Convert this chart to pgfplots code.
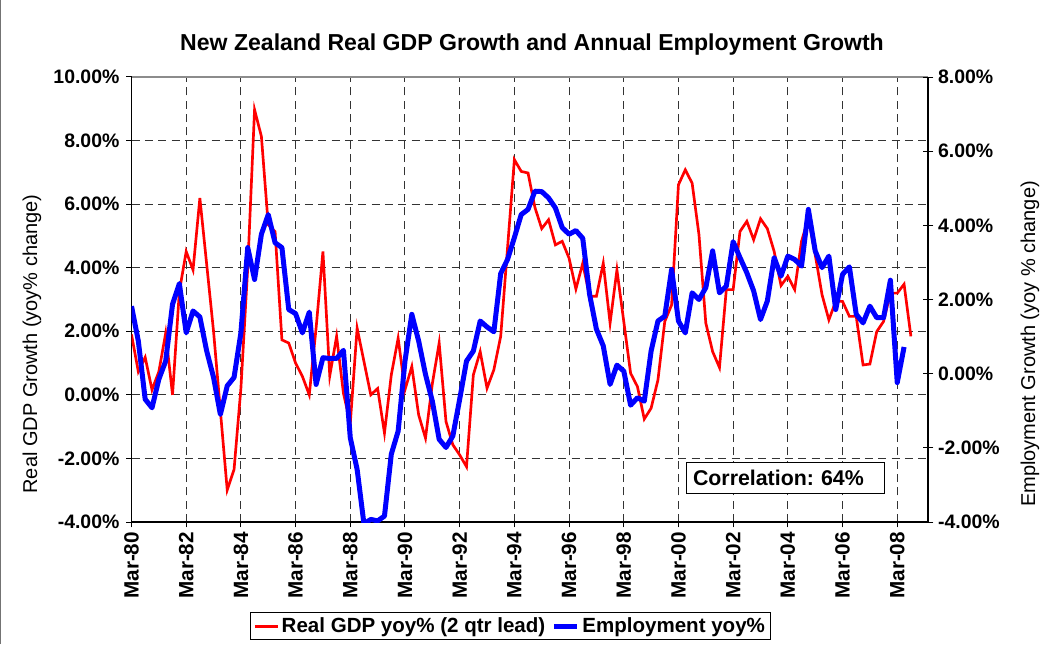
\documentclass[border=0pt]{standalone}
\usepackage{pgfplots}
\pgfplotsset{compat=1.18}
\usepackage{pgfplotstable}
\usepackage{fontspec}
\setmainfont{Liberation Sans}
\frenchspacing

\pgfplotstableread{
i v
0 1.9
1 0.73
2 1.18
3 0.16
4 0.73
5 1.94
6 0.0
7 3.25
8 4.51
9 3.93
10 6.19
11 4.1
12 2.0
13 -0.5
14 -2.99
15 -2.35
16 0.2
17 4.0
18 8.97
19 8.13
20 5.35
21 5.14
22 1.73
23 1.63
24 1.0
25 0.58
26 0.0
27 2.1
28 4.51
29 0.6
30 1.84
31 0.05
32 -0.9
33 2.1
34 1.05
35 0.0
36 0.2
37 -1.2
38 0.63
39 1.78
40 0.16
41 0.89
42 -0.63
43 -1.36
44 0.35
45 1.63
46 -0.84
47 -1.57
48 -1.89
49 -2.26
50 0.63
51 1.36
52 0.21
53 0.79
54 1.84
55 4.62
56 7.4
57 7.03
58 6.98
59 5.9
60 5.23
61 5.51
62 4.72
63 4.83
64 4.3
65 3.33
66 4.14
67 3.1
68 3.1
69 4.14
70 2.26
71 3.93
72 2.31
73 0.68
74 0.26
75 -0.76
76 -0.42
77 0.47
78 2.31
79 2.83
80 6.61
81 7.08
82 6.66
83 5.04
84 2.26
85 1.36
86 0.86
87 3.31
88 3.31
89 5.14
90 5.46
91 4.88
92 5.54
93 5.23
94 4.51
95 3.44
96 3.73
97 3.31
98 4.83
99 5.56
100 4.41
101 3.15
102 2.36
103 2.94
104 2.94
105 2.47
106 2.47
107 0.94
108 0.97
109 1.99
110 2.31
111 3.2
112 3.2
113 3.48
114 1.84
}\gdp

\pgfplotstableread{
i v
0 1.82
1 0.88
2 -0.69
3 -0.92
4 -0.15
5 0.34
6 1.87
7 2.43
8 1.1
9 1.69
10 1.53
11 0.61
12 -0.1
13 -1.1
14 -0.33
15 -0.1
16 1.1
17 3.40
18 2.54
19 3.76
20 4.29
21 3.53
22 3.40
23 1.73
24 1.62
25 1.1
26 1.66
27 -0.29
28 0.43
29 0.41
30 0.41
31 0.63
32 -1.73
33 -2.58
34 -4.05
35 -3.93
36 -3.97
37 -3.84
38 -2.17
39 -1.55
40 0.34
41 1.6
42 0.88
43 -0.02
44 -0.74
45 -1.77
46 -1.99
47 -1.68
48 -0.69
49 0.34
50 0.61
51 1.42
52 1.26
53 1.13
54 2.7
55 3.08
56 3.67
57 4.29
58 4.43
59 4.92
60 4.91
61 4.74
62 4.47
63 3.94
64 3.76
65 3.86
66 3.65
67 2.14
68 1.2
69 0.75
70 -0.29
71 0.23
72 0.07
73 -0.85
74 -0.65
75 -0.74
76 0.61
77 1.42
78 1.55
79 2.81
80 1.42
81 1.1
82 2.18
83 2.0
84 2.32
85 3.31
86 2.18
87 2.36
88 3.56
89 3.13
90 2.72
91 2.23
92 1.46
93 1.96
94 3.13
95 2.63
96 3.17
97 3.08
98 2.9
99 4.43
100 3.31
101 2.86
102 3.17
103 1.73
104 2.68
105 2.88
106 1.6
107 1.37
108 1.82
109 1.51
110 1.51
111 2.52
112 -0.24
113 0.72
}\emp

\begin{document}
\begin{tikzpicture}[x=0.75pt,y=0.75pt]
\useasboundingbox (0,0) rectangle (1045,644);
\draw[black!55, line width=0.75pt] (0.6,0) -- (0.6,644);
\node[font=\bfseries\fontsize{17.3}{18}\selectfont] at (532,599) {New Zealand Real GDP Growth and Annual Employment Growth};
\node[rotate=90, font=\fontsize{15}{16}\selectfont] at (32,300) {Real GDP Growth (yoy\% change)};
\node[rotate=90, font=\fontsize{15}{16}\selectfont] at (1030,300) {Employment Growth (yoy \% change)};

\begin{axis}[
  scale only axis, width=597.375pt, height=333.75pt,
  at={(98.625pt,91.5pt)}, anchor=south west,
  xmin=0, xmax=116.5, ymin=-4, ymax=10,
  axis x line*=bottom, axis y line*=left,
  axis line style={black, line width=0.9pt},
  xtick={0,8,...,112},
  xticklabels={Mar-80,Mar-82,Mar-84,Mar-86,Mar-88,Mar-90,Mar-92,Mar-94,Mar-96,Mar-98,Mar-00,Mar-02,Mar-04,Mar-06,Mar-08},
  ytick={-4,-2,...,10},
  yticklabels={-4.00\%,-2.00\%,0.00\%,2.00\%,4.00\%,6.00\%,8.00\%,10.00\%},
  tick align=outside, major tick length=4pt,
  tick style={black, line width=0.75pt},
  x tick label style={rotate=90, anchor=east, font=\bfseries\fontsize{15.5}{16}\selectfont},
  y tick label style={font=\bfseries\fontsize{14.6}{16}\selectfont, xshift=-1.5pt},
  grid=major,
  major grid style={black!80, line width=0.75pt, dash pattern=on 6pt off 4pt},
  clip=true,
  legend style={at={(0.476,-0.202)}, anchor=north, legend columns=2, draw=black, line width=0.75pt,
    font=\bfseries\fontsize{15.4}{17}\selectfont, inner sep=2pt,
    /tikz/every even column/.append style={column sep=3pt}},
  legend cell align=left,
]
\draw[black!45, line width=0.9pt] (rel axis cs:0,1) -- (rel axis cs:1,1);
\addplot[red, line width=2pt, mark=none] table[x=i, y=v] {\gdp};
\addlegendentry{Real GDP yoy\% (2 qtr lead)}
\addlegendimage{blue, line width=3.75pt}
\addlegendentry{Employment yoy\%}
\end{axis}

\begin{axis}[
  scale only axis, width=597.375pt, height=333.75pt,
  at={(98.625pt,91.5pt)}, anchor=south west,
  xmin=0, xmax=116.5, ymin=-4, ymax=8,
  axis x line=none, axis y line*=right,
  axis line style={black, line width=0.9pt},
  ytick={-4,-2,...,8},
  yticklabels={-4.00\%,-2.00\%,0.00\%,2.00\%,4.00\%,6.00\%,8.00\%},
  tick align=center, major tick length=8pt,
  tick style={black, line width=0.75pt},
  y tick label style={font=\bfseries\fontsize{14.6}{16}\selectfont},
  clip=true,
]
\addplot[blue, line width=3.75pt, mark=none, line join=round] table[x=i, y=v] {\emp};
\node[draw=black, line width=0.75pt, fill=white, minimum height=23.25pt, text width=138pt, inner xsep=5.25pt, align=left,
  font=\bfseries\fontsize{16}{17}\selectfont] at (rel axis cs:0.8205,0.1) {Correlation: 64\%};
\end{axis}
\end{tikzpicture}
\end{document}
